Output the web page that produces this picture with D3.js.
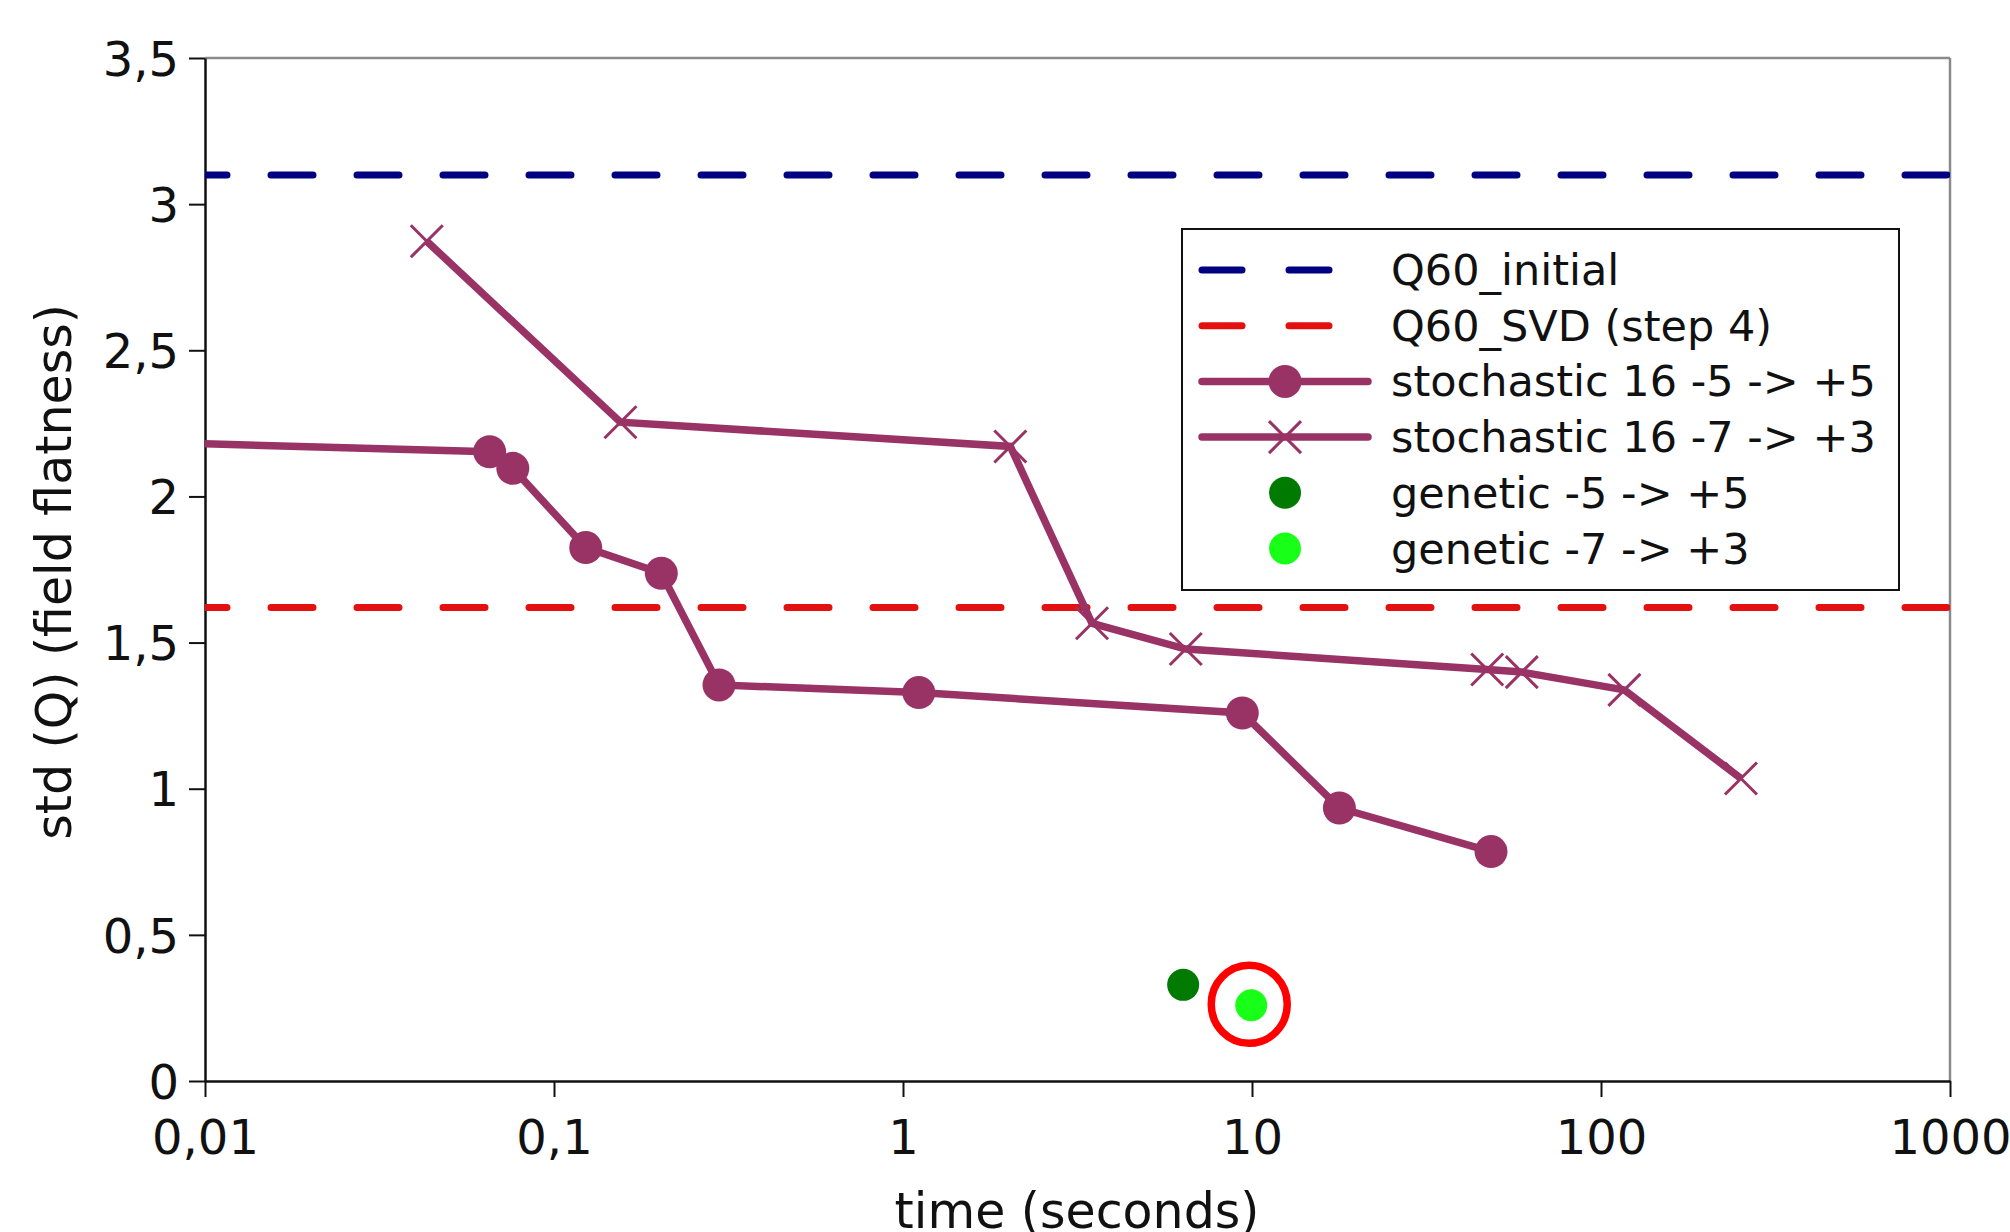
<!DOCTYPE html>
<html>
<head>
<meta charset="utf-8">
<script src="https://cdn.jsdelivr.net/npm/d3@7"></script>
<style>
  body { margin: 0; background: #fff; }
  svg { display: block; font-family: "DejaVu Sans", sans-serif; }
</style>
</head>
<body>
<svg id="chart" width="2010" height="1232"></svg>
<script>
// data
var xTicks = [0.01, 0.1, 1, 10, 100, 1000];
var yTicks = [0, 0.5, 1, 1.5, 2, 2.5, 3, 3.5];

var q60Initial = 3.10;
var q60SVD = 1.62;

// stochastic 16 -5 -> +5 (first point lies left of the axis, gets clipped)
var stoch5Time = [0.005, 0.0654, 0.0762, 0.1233, 0.203, 0.297, 1.11, 9.38, 17.8, 48.4];
var stoch5Std  = [2.19, 2.153, 2.096, 1.825, 1.737, 1.355, 1.329, 1.259, 0.934, 0.785];

// stochastic 16 -7 -> +3
var stoch7Time = [0.0432, 0.155, 2.03, 3.48, 6.46, 47.2, 59.3, 116.7, 251.8];
var stoch7Std  = [2.873, 2.254, 2.171, 1.566, 1.478, 1.408, 1.399, 1.338, 1.035];

var genetic5 = [6.35, 0.329];
var genetic7 = [9.95, 0.259];

var legendLabels = ["Q60_initial", "Q60_SVD (step 4)", "stochastic 16 -5 -> +5",
                    "stochastic 16 -7 -> +3", "genetic -5 -> +5", "genetic -7 -> +3"];

var purple = "#993366", navy = "#000080", red = "#e41010",
    dkGreen = "#007a00", ltGreen = "#18ff18";

var svg = d3.select("#chart");
var pLeft = 205, pRight = 1950, pTop = 58, pBottom = 1081;

var x = d3.scaleLog().domain([0.01, 1000]).range([pLeft, pRight]);
var y = d3.scaleLinear().domain([0, 3.5]).range([pBottom, pTop]);

var fmt = function(d){ return String(d).replace(".", ","); };

svg.append("clipPath").attr("id", "plotclip")
  .append("rect").attr("x", pLeft).attr("y", pTop)
  .attr("width", pRight - pLeft).attr("height", pBottom - pTop);

// frame: top and right in gray
svg.append("line").attr("x1", pLeft).attr("x2", pRight).attr("y1", pTop).attr("y2", pTop)
  .attr("stroke", "#8a8a8a").attr("stroke-width", 2.5);
svg.append("line").attr("x1", pRight).attr("x2", pRight).attr("y1", pTop).attr("y2", pBottom)
  .attr("stroke", "#8a8a8a").attr("stroke-width", 2.5);

// axes
var xAxis = svg.append("g").attr("transform", "translate(0," + pBottom + ")")
  .call(d3.axisBottom(x).tickValues(xTicks).tickFormat(fmt).tickSize(16).tickSizeOuter(0));
var yAxis = svg.append("g").attr("transform", "translate(" + pLeft + ",0)")
  .call(d3.axisLeft(y).tickValues(yTicks).tickFormat(fmt).tickSize(16).tickSizeOuter(0));

[xAxis, yAxis].forEach(function(a){
  a.select(".domain").attr("stroke", "#111").attr("stroke-width", 2.5);
  a.selectAll(".tick line").attr("stroke", "#111").attr("stroke-width", 2);
  a.selectAll("text").attr("font-size", 48).attr("fill", "#111")
    .attr("font-family", "DejaVu Sans");
});
xAxis.selectAll("text").attr("dy", null).attr("y", 73);
yAxis.selectAll("text").attr("x", -26).attr("dy", "0.36em");

// axis titles
svg.append("text").attr("x", 1077).attr("y", 1228).attr("text-anchor", "middle")
  .attr("font-size", 49).attr("fill", "#111").text("time (seconds)");
svg.append("text").attr("transform", "translate(71,572) rotate(-90)")
  .attr("text-anchor", "middle").attr("font-size", 49).attr("fill", "#111")
  .text("std (Q) (field flatness)");

var plot = svg.append("g").attr("clip-path", "url(#plotclip)");

// reference lines
plot.append("line").attr("x1", pLeft).attr("x2", pRight)
  .attr("y1", y(q60Initial)).attr("y2", y(q60Initial))
  .attr("stroke", navy).attr("stroke-width", 7).attr("stroke-linecap", "round")
  .attr("stroke-dasharray", "42,44").attr("stroke-dashoffset", 20);
plot.append("line").attr("x1", pLeft).attr("x2", pRight)
  .attr("y1", y(q60SVD)).attr("y2", y(q60SVD))
  .attr("stroke", red).attr("stroke-width", 7).attr("stroke-linecap", "round")
  .attr("stroke-dasharray", "42,44").attr("stroke-dashoffset", 20);

var line = d3.line().x(function(d){ return x(d[0]); }).y(function(d){ return y(d[1]); });

var s5 = d3.zip(stoch5Time, stoch5Std);
var s7 = d3.zip(stoch7Time, stoch7Std);

plot.append("path").datum(s5).attr("d", line)
  .attr("fill", "none").attr("stroke", purple).attr("stroke-width", 7.5);
plot.append("path").datum(s7).attr("d", line)
  .attr("fill", "none").attr("stroke", purple).attr("stroke-width", 7.5);

plot.selectAll(".dot5").data(s5).enter().append("circle")
  .attr("cx", function(d){ return x(d[0]); })
  .attr("cy", function(d){ return y(d[1]); })
  .attr("r", 16.5).attr("fill", purple);

var crossPath = function(cx, cy, s) {
  return "M" + (cx - s) + "," + (cy - s) + "L" + (cx + s) + "," + (cy + s) +
         "M" + (cx - s) + "," + (cy + s) + "L" + (cx + s) + "," + (cy - s);
};
plot.selectAll(".cross7").data(s7).enter().append("path")
  .attr("d", function(d){ return crossPath(x(d[0]), y(d[1]), 16); })
  .attr("stroke", purple).attr("stroke-width", 3).attr("fill", "none");

// genetic points
plot.append("circle").attr("cx", x(genetic5[0])).attr("cy", y(genetic5[1]))
  .attr("r", 16).attr("fill", dkGreen);
plot.append("circle").attr("cx", x(genetic7[0])).attr("cy", y(genetic7[1]))
  .attr("r", 16).attr("fill", ltGreen);
// red highlight ring
plot.append("ellipse").attr("cx", x(genetic7[0]) - 2).attr("cy", y(genetic7[1]) - 1)
  .attr("rx", 38).attr("ry", 39).attr("fill", "none")
  .attr("stroke", "#ff0000").attr("stroke-width", 7.5);

// legend
var lg = svg.append("g");
lg.append("rect").attr("x", 1182).attr("y", 229).attr("width", 717).attr("height", 361)
  .attr("fill", "#fff").attr("stroke", "#111").attr("stroke-width", 2);

var rowY = function(i){ return 270 + i * 55.7; };
var sx0 = 1202, sx1 = 1368, smid = 1285;

[navy, red].forEach(function(c, i){
  lg.append("line").attr("x1", sx0).attr("x2", sx0 + 40).attr("y1", rowY(i)).attr("y2", rowY(i))
    .attr("stroke", c).attr("stroke-width", 7).attr("stroke-linecap", "round");
  lg.append("line").attr("x1", sx0 + 87).attr("x2", sx0 + 127).attr("y1", rowY(i)).attr("y2", rowY(i))
    .attr("stroke", c).attr("stroke-width", 7).attr("stroke-linecap", "round");
});
[2, 3].forEach(function(i){
  lg.append("line").attr("x1", sx0).attr("x2", sx1).attr("y1", rowY(i)).attr("y2", rowY(i))
    .attr("stroke", purple).attr("stroke-width", 7.5).attr("stroke-linecap", "round");
});
lg.append("circle").attr("cx", smid).attr("cy", rowY(2)).attr("r", 16.5).attr("fill", purple);
lg.append("path").attr("d", crossPath(smid, rowY(3), 16))
  .attr("stroke", purple).attr("stroke-width", 3);
lg.append("circle").attr("cx", smid).attr("cy", rowY(4)).attr("r", 16).attr("fill", dkGreen);
lg.append("circle").attr("cx", smid).attr("cy", rowY(5)).attr("r", 16).attr("fill", ltGreen);

lg.selectAll(".ltxt").data(legendLabels).enter().append("text")
  .attr("x", 1391).attr("y", function(d, i){ return rowY(i); })
  .attr("dy", "0.35em").attr("font-size", 43).attr("fill", "#111")
  .text(function(d){ return d; });
</script>
</body>
</html>
